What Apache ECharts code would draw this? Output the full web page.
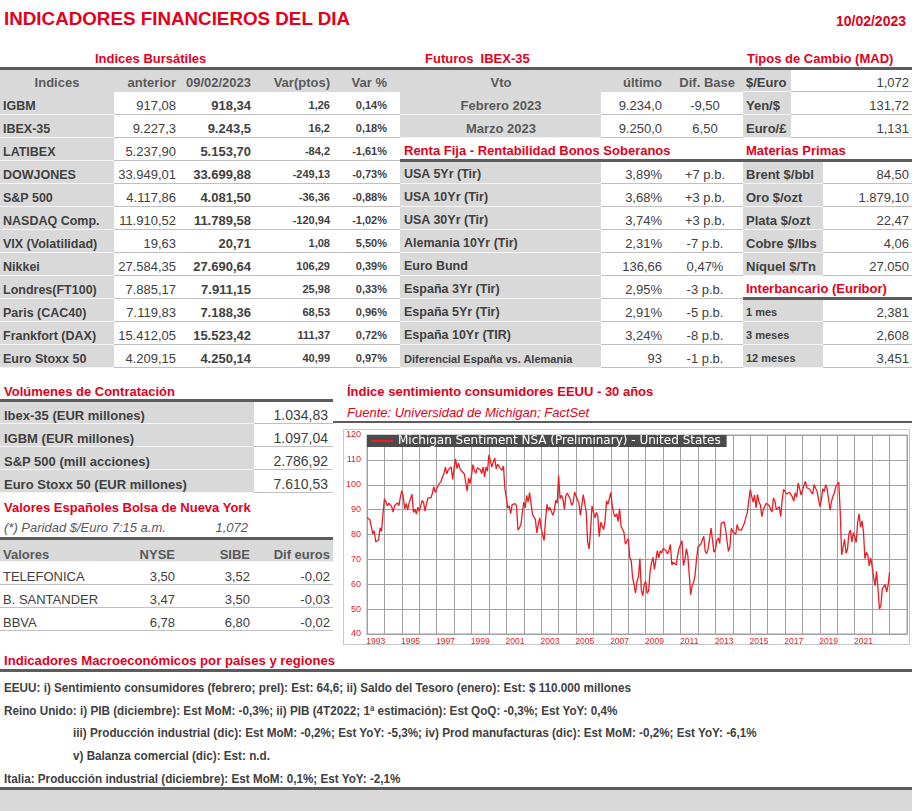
<!DOCTYPE html>
<html>
<head>
<meta charset="utf-8">
<title>Indicadores financieros del dia</title>
<script src="https://cdn.jsdelivr.net/npm/echarts@6/dist/echarts.min.js"></script>
<style>
  html, body { margin: 0; padding: 0; background: #fff; }
  #page { position: relative; width: 912px; height: 811px; overflow: hidden;
          font-family: "Liberation Sans", Arial, sans-serif; }
  .t { position: absolute; white-space: pre; }
  .r { position: absolute; }
  #frame { position: absolute; left: 343px; top: 429px; width: 567px; height: 216px;
           border: 1px solid #c8c8c8; box-sizing: border-box; }
  #chart { position: absolute; left: 344px; top: 430px; width: 565px; height: 214px; }
</style>
</head>
<body>
<div id="page">
  <div id="frame"></div>
  <div id="chart"></div>
</div>
<script>
// ---------- datos ----------
const reportDate = '10/02/2023';

const idxNames  = ['IGBM', 'IBEX-35', 'LATIBEX', 'DOWJONES', 'S&P 500', 'NASDAQ Comp.', 'VIX (Volatilidad)',
                   'Nikkei', 'Londres(FT100)', 'Paris (CAC40)', 'Frankfort (DAX)', 'Euro Stoxx 50'];
const idxPrev   = ['917,08', '9.227,3', '5.237,90', '33.949,01', '4.117,86', '11.910,52', '19,63',
                   '27.584,35', '7.885,17', '7.119,83', '15.412,05', '4.209,15'];
const idxLast   = ['918,34', '9.243,5', '5.153,70', '33.699,88', '4.081,50', '11.789,58', '20,71',
                   '27.690,64', '7.911,15', '7.188,36', '15.523,42', '4.250,14'];
const idxVarPts = ['1,26', '16,2', '-84,2', '-249,13', '-36,36', '-120,94', '1,08',
                   '106,29', '25,98', '68,53', '111,37', '40,99'];
const idxVarPct = ['0,14%', '0,18%', '-1,61%', '-0,73%', '-0,88%', '-1,02%', '5,50%',
                   '0,39%', '0,33%', '0,96%', '0,72%', '0,97%'];

const futVto  = ['Febrero 2023', 'Marzo 2023'];
const futLast = ['9.234,0', '9.250,0'];
const futDif  = ['-9,50', '6,50'];

const fxNames  = ['$/Euro', 'Yen/$', 'Euro/£'];
const fxValues = ['1,072', '131,72', '1,131'];

const bondNames  = ['USA 5Yr (Tir)', 'USA 10Yr (Tir)', 'USA 30Yr (Tir)', 'Alemania 10Yr (Tir)', 'Euro Bund',
                    'España 3Yr (Tir)', 'España 5Yr (Tir)', 'España 10Yr (TIR)', 'Diferencial España vs. Alemania'];
const bondYield  = ['3,89%', '3,68%', '3,74%', '2,31%', '136,66', '2,95%', '2,91%', '3,24%', '93'];
const bondChange = ['+7 p.b.', '+3 p.b.', '+3 p.b.', '-7 p.b.', '0,47%', '-3 p.b.', '-5 p.b.', '-8 p.b.', '-1 p.b.'];

const commNames  = ['Brent $/bbl', 'Oro $/ozt', 'Plata $/ozt', 'Cobre $/lbs', 'Níquel $/Tn'];
const commValues = ['84,50', '1.879,10', '22,47', '4,06', '27.050'];

const euriborNames  = ['1 mes', '3 meses', '12 meses'];
const euriborValues = ['2,381', '2,608', '3,451'];

const volNames  = ['Ibex-35 (EUR millones)', 'IGBM (EUR millones)', 'S&P 500 (mill acciones)', 'Euro Stoxx 50 (EUR millones)'];
const volValues = ['1.034,83', '1.097,04', '2.786,92', '7.610,53'];

const nyParity = '1,072';
const nyNames = ['TELEFONICA', 'B. SANTANDER', 'BBVA'];
const nyNyse  = ['3,50', '3,47', '6,78'];
const nySibe  = ['3,52', '3,50', '6,80'];
const nyDif   = ['-0,02', '-0,03', '-0,02'];

const macroLines = [
  'EEUU: i) Sentimiento consumidores (febrero; prel): Est: 64,6; ii) Saldo del Tesoro (enero): Est: $ 110.000 millones',
  'Reino Unido: i) PIB (diciembre): Est MoM: -0,3%; ii) PIB (4T2022; 1ª estimación): Est QoQ: -0,3%; Est YoY: 0,4%',
  'iii) Producción industrial (dic): Est MoM: -0,2%; Est YoY: -5,3%; iv) Prod manufacturas (dic): Est MoM: -0,2%; Est YoY: -6,1%',
  'v) Balanza comercial (dic): Est: n.d.',
  'Italia: Producción industrial (diciembre): Est MoM: 0,1%; Est YoY: -2,1%'
];
const macroIndent = [false, false, true, true, false];

// Michigan Sentiment, mensual desde ene-1993
const sent1993_1997 = [
  86.8, 86.6, 85.9, 85.6, 80.3, 81.5, 77.0, 77.3, 77.9, 82.7, 81.2, 88.2,
  94.3, 93.2, 91.5, 92.6, 92.8, 91.2, 89.0, 91.7, 91.5, 92.7, 91.6, 95.1,
  97.6, 95.1, 90.3, 92.5, 89.8, 92.7, 94.4, 96.2, 88.9, 90.2, 88.2, 91.0,
  89.3, 88.5, 93.7, 92.7, 89.4, 92.4, 94.7, 95.3, 94.7, 96.5, 99.2, 96.9,
  97.4, 99.7, 100.0, 101.4, 103.2, 104.5, 107.1, 104.4, 106.0, 105.6, 107.2, 102.1
];
const sent1998_2002 = [
  106.6, 110.4, 106.5, 108.7, 106.5, 105.6, 105.2, 104.4, 100.9, 97.4, 102.7, 100.5,
  103.9, 108.1, 105.7, 104.6, 106.8, 107.3, 106.0, 104.5, 107.2, 103.2, 107.2, 105.4,
  112.0, 111.3, 107.1, 109.2, 110.7, 106.4, 108.3, 107.3, 106.8, 105.8, 107.6, 98.4,
  94.7, 90.6, 91.5, 88.4, 92.0, 92.6, 92.4, 91.5, 81.8, 82.7, 83.9, 88.8,
  93.0, 90.7, 95.7, 93.0, 96.9, 92.4, 88.1, 87.6, 86.1, 80.6, 84.2, 86.7
];
const sent2003_2007 = [
  82.4, 79.9, 77.6, 86.0, 92.1, 89.7, 90.9, 89.3, 87.7, 89.6, 93.7, 92.6,
  103.8, 94.4, 95.8, 94.2, 90.2, 95.6, 96.7, 95.9, 94.2, 91.7, 92.8, 97.1,
  95.5, 94.1, 92.6, 87.7, 86.9, 96.0, 96.5, 89.1, 76.9, 74.2, 81.6, 91.5,
  91.2, 86.7, 88.9, 87.4, 79.1, 84.9, 84.7, 82.0, 85.4, 93.6, 92.1, 91.7,
  96.9, 91.3, 88.4, 87.1, 88.3, 85.3, 90.4, 83.4, 83.4, 80.9, 76.1, 75.5
];
const sent2008_2012 = [
  78.4, 70.8, 69.5, 62.6, 59.8, 56.4, 61.2, 63.0, 70.3, 57.6, 55.3, 60.1,
  61.2, 56.3, 57.3, 65.1, 68.7, 70.8, 66.0, 65.7, 73.5, 70.6, 73.4, 72.5,
  74.4, 73.6, 73.6, 72.2, 73.6, 76.0, 67.8, 68.9, 68.2, 67.7, 71.6, 74.5,
  74.2, 77.5, 67.5, 69.8, 74.3, 71.5, 63.7, 55.8, 59.5, 60.8, 63.7, 69.9,
  75.0, 75.3, 76.2, 76.4, 79.3, 73.2, 72.3, 74.3, 78.3, 82.6, 82.7, 72.9
];
const sent2013_2017 = [
  73.8, 77.6, 78.6, 76.4, 84.5, 84.1, 85.1, 82.1, 77.5, 73.2, 75.1, 82.5,
  81.2, 81.6, 80.0, 84.1, 81.9, 82.5, 81.8, 82.5, 84.6, 86.9, 88.8, 93.6,
  98.1, 95.4, 93.0, 95.9, 90.7, 96.1, 93.1, 91.9, 87.2, 90.0, 91.3, 92.6,
  92.0, 91.7, 91.0, 89.0, 94.7, 93.5, 90.0, 89.8, 91.2, 87.2, 93.8, 98.2,
  98.5, 96.3, 96.9, 97.0, 97.1, 95.1, 93.4, 96.8, 95.1, 100.7, 98.5, 95.9
];
const sent2018_2022 = [
  95.7, 99.7, 101.4, 98.8, 98.0, 98.2, 97.9, 96.2, 100.1, 98.6, 97.5, 98.3,
  91.2, 93.8, 98.4, 97.2, 100.0, 98.2, 98.4, 89.8, 93.2, 95.5, 96.8, 99.3,
  99.8, 101.0, 89.1, 71.8, 72.3, 78.1, 72.5, 74.1, 80.4, 81.8, 76.9, 80.7,
  79.0, 76.8, 84.9, 88.3, 82.9, 85.5, 81.2, 70.3, 72.8, 71.7, 67.4, 70.6,
  67.2, 62.8, 59.4, 65.2, 58.4, 50.0, 51.5, 58.2, 58.6, 59.9, 56.8, 59.7
];
const sent2023 = [64.9];

const firstYear = 1993, lastYear = 2024;   // eje hasta ene-2024
const lastLabelYear = 2021;
const yTicks = {min: 40, max: 120, step: 10};
const seriesName = 'Michigan Sentiment NSA (Preliminary) - United States';

// ---------- estilos ----------
const RED = '#e3001b';
const LINE_RED = '#ec1c24';
const GREY = '#d9d9d9';
const DARK = '#5c5c5c';
const INK = '#404040';
const HEAD = '#595959';
const SEP = '#c0c0c0';
const page = document.getElementById('page');

function rect(x, y, w, h, color) {
  const d = document.createElement('div');
  d.className = 'r';
  d.style.cssText = 'left:' + x + 'px;top:' + y + 'px;width:' + w + 'px;height:' + h + 'px;background:' + color;
  page.appendChild(d);
}

function txt(x, base, s, o) {
  o = o || {};
  const fs = o.size || 13;
  const d = document.createElement('div');
  d.className = 't';
  d.textContent = s;
  const align = o.align || 'left';
  let left = x;
  if (align === 'right') left = x - 500;
  if (align === 'center') left = x - 250;
  d.style.left = left + 'px';
  d.style.top = (base - 0.8465 * fs) + 'px';
  if (align !== 'left') { d.style.width = '500px'; d.style.textAlign = align; }
  d.style.fontSize = fs + 'px';
  d.style.lineHeight = fs + 'px';
  if (o.bold) d.style.fontWeight = 'bold';
  if (o.italic) d.style.fontStyle = 'italic';
  if (o.family) d.style.fontFamily = o.family;
  d.style.color = o.color || INK;
  page.appendChild(d);
  return d;
}

// fila: tramos [x0, x1, fondo]; separador claro abajo
function row(y, h, segs) {
  segs.forEach(function (s) {
    rect(s[0], y, s[1] - s[0], h, s[2]);
    rect(s[0], y + h - 1, s[1] - s[0], 1, s[2] === GREY ? '#f4f4f4' : SEP);
  });
}

// ---------- cabecera ----------
txt(4, 26, 'INDICADORES FINANCIEROS DEL DIA', {size: 18.8, bold: true, color: RED});
txt(906, 26, reportDate, {size: 14, bold: true, color: RED, align: 'right'});
txt(95, 63, 'Indices Bursátiles', {bold: true, color: RED});
txt(425, 63, 'Futuros  IBEX-35', {bold: true, color: RED});
txt(747, 63, 'Tipos de Cambio (MAD)', {bold: true, color: RED});

// ---------- indices ----------
rect(0, 69, 743, 23, GREY);
txt(57, 87, 'Indices', {bold: true, color: HEAD, align: 'center'});
txt(176, 87, 'anterior', {bold: true, color: HEAD, align: 'right'});
txt(251, 87, '09/02/2023', {bold: true, color: HEAD, align: 'right'});
txt(330, 87, 'Var(ptos)', {bold: true, color: HEAD, align: 'right'});
txt(387, 87, 'Var %', {bold: true, color: HEAD, align: 'right'});
idxNames.forEach(function (n, i) {
  const y = 92 + 23 * i;
  row(y, 23, [[0, 114, GREY], [114, 400, '#fff']]);
  txt(3, y + 19, n, {bold: true, size: 12.5});
  txt(176, y + 18, idxPrev[i], {align: 'right'});
  txt(251, y + 18, idxLast[i], {align: 'right', bold: true});
  txt(330, y + 17, idxVarPts[i], {align: 'right', bold: true, size: 11});
  txt(387, y + 17, idxVarPct[i], {align: 'right', bold: true, size: 11});
});

// ---------- futuros ----------
txt(501, 87, 'Vto', {bold: true, color: HEAD, align: 'center'});
txt(662, 87, 'último', {bold: true, color: HEAD, align: 'right'});
txt(735, 87, 'Dif. Base', {bold: true, color: HEAD, align: 'right'});
futVto.forEach(function (v, i) {
  const y = 92 + 23 * i;
  row(y, 23, [[400, 601, GREY], [601, 743, '#fff']]);
  txt(501, y + 18, v, {bold: true, color: HEAD, align: 'center'});
  txt(662, y + 18, futLast[i], {align: 'right'});
  txt(705, y + 18, futDif[i], {align: 'center'});
});

// ---------- tipos de cambio ----------
fxNames.forEach(function (n, i) {
  const y = i === 0 ? 69 : 69 + 23 * i;
  row(y, 23, [[743, 791, GREY], [791, 912, '#fff']]);
  txt(746, y + 18, n, {bold: true});
  txt(909, y + 18, fxValues[i], {align: 'right'});
});

// ---------- renta fija ----------
row(138, 23, [[400, 912, '#fff']]);
txt(404, 155, 'Renta Fija - Rentabilidad Bonos Soberanos', {bold: true, color: RED});
txt(746, 155, 'Materias Primas', {bold: true, color: RED});
bondNames.forEach(function (n, i) {
  const y = 161 + 23 * i;
  row(y, 23, [[400, 601, GREY], [601, 743, '#fff']]);
  const small = i === bondNames.length - 1;
  txt(404, y + 18, n, {bold: true, size: small ? 11 : 12.5});
  txt(662, y + 18, bondYield[i], {align: 'right'});
  txt(705, y + 18, bondChange[i], {align: 'center'});
});

// ---------- materias primas ----------
commNames.forEach(function (n, i) {
  const y = 161 + 23 * i;
  row(y, 23, [[743, 823, GREY], [823, 912, '#fff']]);
  txt(746, y + 18, n, {bold: true});
  txt(909, y + 18, commValues[i], {align: 'right'});
});

// ---------- euribor ----------
row(276, 23, [[743, 912, '#fff']]);
txt(746, 293, 'Interbancario (Euribor)', {bold: true, color: RED});
euriborNames.forEach(function (n, i) {
  const y = 299 + 23 * i;
  row(y, 23, [[743, 823, GREY], [823, 912, '#fff']]);
  txt(746, y + 17, n, {bold: true, size: 11});
  txt(909, y + 18, euriborValues[i], {align: 'right'});
});

// lineas oscuras de seccion
rect(0, 67, 912, 3, DARK);
rect(400, 159, 512, 3, DARK);
rect(743, 297, 169, 3, DARK);

// ---------- volumenes ----------
txt(4, 396, 'Volúmenes de Contratación', {bold: true, color: RED});
volNames.forEach(function (n, i) {
  const y = 401 + 23 * i;
  row(y, 23, [[0, 254, GREY], [254, 333, '#fff']]);
  txt(4, y + 19, n, {bold: true});
  txt(328, y + 19, volValues[i], {align: 'right', size: 14});
});
rect(0, 399, 333, 3, DARK);

// ---------- valores espanoles NY ----------
txt(4, 512, 'Valores Españoles Bolsa de Nueva York', {bold: true, color: RED});
txt(4, 532, '(*) Paridad $/Euro 7:15 a.m.', {italic: true, color: HEAD});
txt(248, 532, nyParity, {italic: true, color: HEAD, align: 'right'});
row(539, 23, [[0, 333, GREY]]);
rect(0, 537, 333, 3, DARK);
txt(3, 559, 'Valores', {bold: true, color: HEAD});
txt(175, 559, 'NYSE', {bold: true, color: HEAD, align: 'right'});
txt(250, 559, 'SIBE', {bold: true, color: HEAD, align: 'right'});
txt(330, 559, 'Dif euros', {bold: true, color: HEAD, align: 'right'});
nyNames.forEach(function (n, i) {
  const y = 562 + 23 * i;
  row(y, 23, [[0, 333, '#fff']]);
  txt(3, y + 19, n);
  txt(175, y + 19, nyNyse[i], {align: 'right'});
  txt(250, y + 19, nySibe[i], {align: 'right'});
  txt(330, y + 19, nyDif[i], {align: 'right'});
});

// ---------- titulo grafico ----------
txt(347, 396, 'Índice sentimiento consumidores EEUU - 30 años', {bold: true, color: RED});
txt(347, 417, 'Fuente: Universidad de Michigan; FactSet', {italic: true, color: RED});
rect(333, 421, 579, 2, DARK);

// ---------- macro ----------
const NARROW = '"Liberation Sans Narrow", "Liberation Sans", Arial, sans-serif';
const macroHead = txt(4, 665, 'Indicadores Macroeconómicos por países y regiones',
                      {bold: true, color: RED, size: 13, family: NARROW});
const hk = 331 / macroHead.getBoundingClientRect().width;
macroHead.style.transformOrigin = '0 0';
macroHead.style.transform = 'scaleX(' + hk + ')';
rect(0, 669, 912, 3, DARK);
let mk = 1;
macroLines.forEach(function (s, i) {
  const d = txt(macroIndent[i] ? 73 : 4, 692 + 22.8 * i, s, {bold: true, size: 12, family: NARROW, color: INK});
  if (i === 0) mk = 627 / d.getBoundingClientRect().width;
  d.style.transformOrigin = '0 0';
  d.style.transform = 'scaleX(' + mk + ')';
});
rect(0, 787, 912, 3, DARK);
rect(0, 790, 912, 21, GREY);

// ---------- grafico ----------
const sentiment = [].concat(sent1993_1997, sent1998_2002, sent2003_2007,
                            sent2008_2012, sent2013_2017, sent2018_2022, sent2023);
const months = [];
for (let y = firstYear; y <= lastYear; y++) {
  for (let m = 1; m <= 12; m++) {
    if (y === lastYear && m > 1) break;
    months.push(y + '-' + (m < 10 ? '0' + m : m));
  }
}
const lastLabelIdx = (lastLabelYear - firstYear) * 12 + 6;

const chart = echarts.init(document.getElementById('chart'));
chart.setOption({
  animation: false,
  grid: {left: 23, right: 2, top: 5, bottom: 10, show: true, borderColor: '#a0a0a0', borderWidth: 1,
         outerBoundsMode: 'none'},
  legend: {
    data: [seriesName], left: 23, top: 5, padding: [0, 6, 0, 4], itemGap: 0,
    icon: 'rect', itemWidth: 22, itemHeight: 2, selectedMode: false,
    backgroundColor: '#4b4b4b', borderRadius: 0,
    textStyle: {color: '#fff', fontSize: 12, lineHeight: 10, fontFamily: 'DejaVu Sans'}
  },
  xAxis: {
    type: 'category', data: months, boundaryGap: false,
    axisLine: {show: true, lineStyle: {color: '#a0a0a0'}},
    axisTick: {show: false},
    splitLine: {show: true, interval: function (i) { return i % 12 === 0; },
                lineStyle: {color: '#a0a0a0', width: 1}},
    axisLabel: {interval: function (i) { return i % 24 === 6 && i <= lastLabelIdx; },
                formatter: function (v) { return v.slice(0, 4); },
                color: LINE_RED, fontSize: 8.5, margin: 3, fontFamily: 'Liberation Sans'}
  },
  yAxis: {
    type: 'value', min: yTicks.min, max: yTicks.max, interval: yTicks.step,
    axisLine: {show: true, lineStyle: {color: '#a0a0a0'}},
    axisTick: {show: false},
    splitLine: {lineStyle: {color: '#a0a0a0', width: 1}},
    axisLabel: {color: LINE_RED, fontSize: 9, margin: 6, fontFamily: 'Liberation Sans'}
  },
  series: [{
    name: seriesName, type: 'line', data: sentiment, symbol: 'none', showSymbol: false,
    lineStyle: {color: LINE_RED, width: 1.3}, itemStyle: {color: LINE_RED}
  }]
});
</script>
</body>
</html>
